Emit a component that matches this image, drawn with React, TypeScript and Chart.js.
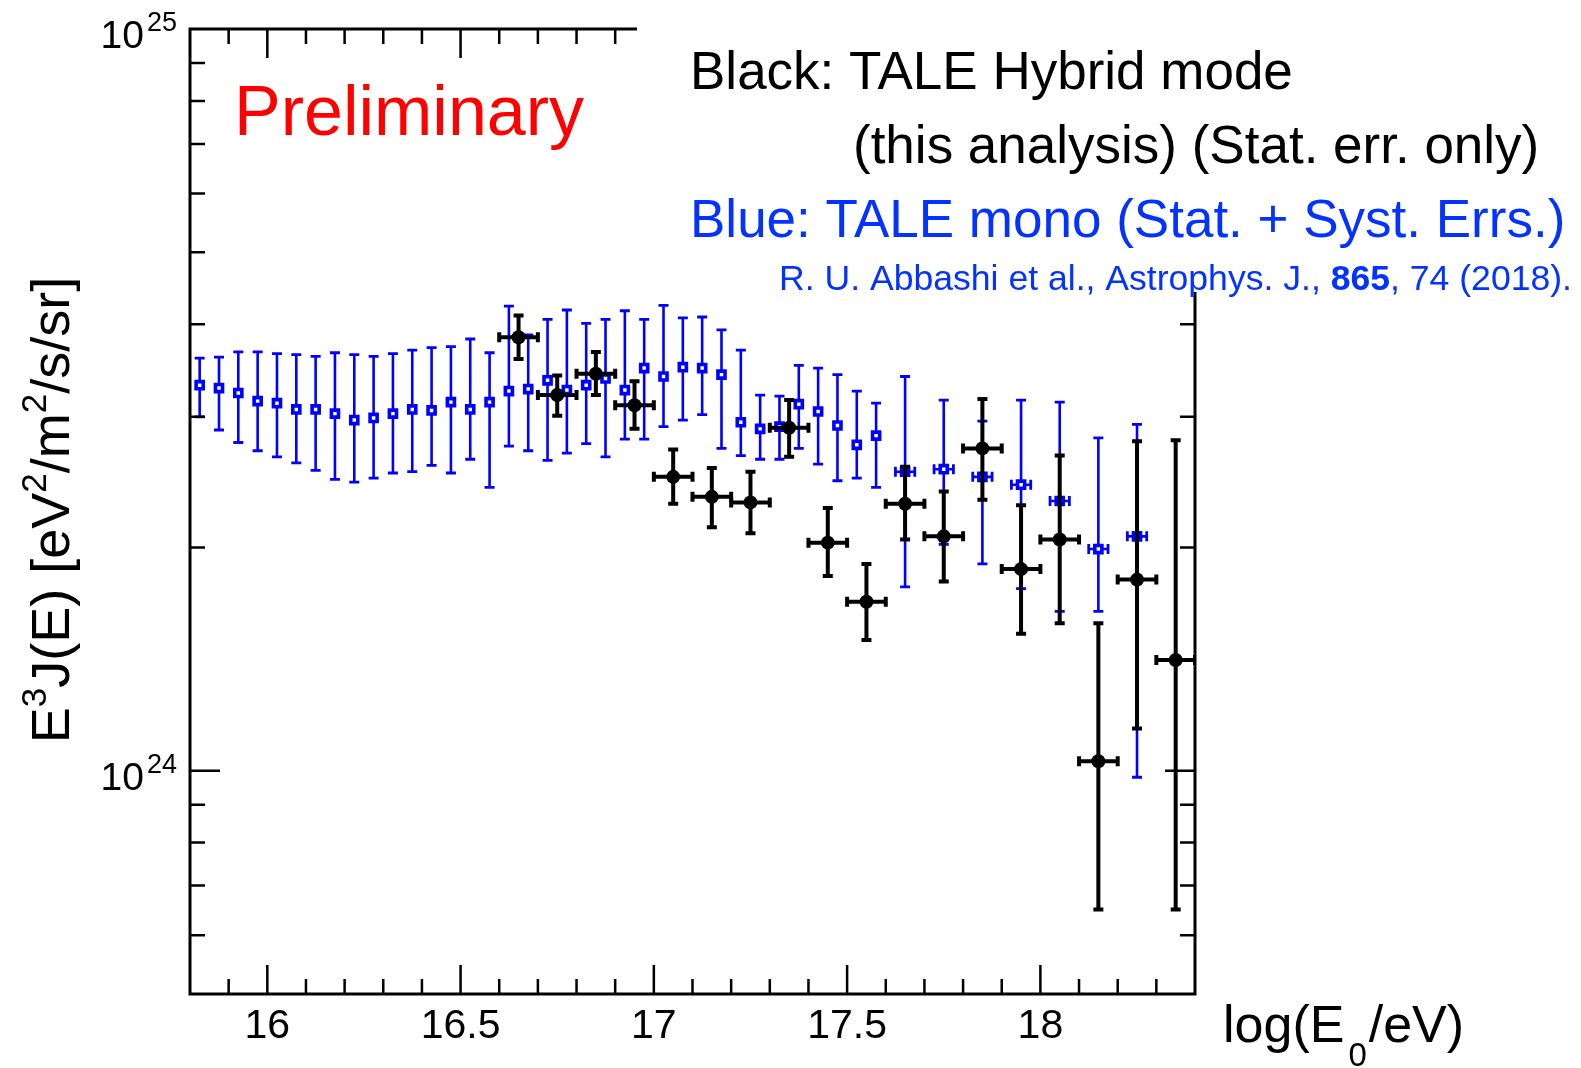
import React, { useEffect, useRef } from 'react';
import { Chart, registerables } from 'chart.js';

Chart.register(...registerables);

const W = 1581;
const H = 1068;
const UNIT = 1e24;

// ---- Blue: TALE mono (values in units of 1e24) ----
const blueX = [15.825, 15.875, 15.925, 15.975, 16.025, 16.075, 16.125, 16.175, 16.225, 16.275,
  16.325, 16.375, 16.425, 16.475, 16.525, 16.575, 16.625, 16.675, 16.725, 16.775,
  16.825, 16.875, 16.925, 16.975, 17.025, 17.075, 17.125, 17.175, 17.225, 17.275,
  17.325, 17.375, 17.425, 17.475, 17.525, 17.575, 17.65, 17.75, 17.85, 17.95,
  18.05, 18.15, 18.25];
const blueY = [3.31, 3.28, 3.23, 3.15, 3.13, 3.07, 3.07, 3.03, 2.97, 2.99,
  3.03, 3.07, 3.06, 3.14, 3.07, 3.14, 3.25, 3.27, 3.36, 3.26,
  3.31, 3.38, 3.26, 3.49, 3.40, 3.50, 3.49, 3.42, 2.95, 2.89,
  2.91, 3.12, 3.05, 2.92, 2.75, 2.83, 2.53, 2.55, 2.49, 2.43,
  2.31, 1.99, 2.07];
const blueHi = [3.60, 3.61, 3.67, 3.67, 3.65, 3.64, 3.62, 3.66, 3.64, 3.62,
  3.65, 3.69, 3.72, 3.73, 3.82, 3.66, 4.23, 3.87, 4.06, 4.18,
  4.01, 4.06, 4.17, 4.06, 4.24, 4.08, 4.09, 3.93, 3.69, 3.21,
  3.20, 3.52, 3.49, 3.42, 3.25, 3.13, 3.40, 3.16, 2.96, 3.16,
  3.14, 2.81, 2.93];
const blueLo = [3.00, 2.88, 2.77, 2.70, 2.65, 2.60, 2.54, 2.47, 2.45, 2.48,
  2.52, 2.53, 2.58, 2.52, 2.63, 2.41, 2.74, 2.70, 2.62, 2.68,
  2.76, 2.65, 2.80, 2.80, 2.91, 2.97, 3.02, 2.72, 2.66, 2.63,
  2.63, 2.72, 2.59, 2.46, 2.48, 2.41, 1.77, 2.02, 1.90, 1.76,
  1.64, 1.64, 0.98];
const blueXErr = [0, 0, 0, 0, 0, 0, 0, 0, 0, 0,
  0, 0, 0, 0, 0, 0, 0, 0, 0, 0,
  0, 0, 0, 0, 0, 0, 0, 0, 0, 0,
  0, 0, 0, 0, 0, 0, 0.025, 0.025, 0.025, 0.025,
  0.025, 0.025, 0.025];

// ---- Black: TALE Hybrid (values in units of 1e24) ----
const blackX = [16.65, 16.75, 16.85, 16.95, 17.05, 17.15, 17.25, 17.35, 17.45,
  17.55, 17.65, 17.75, 17.85, 17.95, 18.05, 18.15, 18.25, 18.35];
const blackY = [3.84, 3.21, 3.43, 3.11, 2.49, 2.34, 2.30, 2.90, 2.03,
  1.69, 2.29, 2.07, 2.72, 1.87, 2.05, 1.03, 1.81, 1.41];
const blackHi = [4.11, 3.41, 3.67, 3.35, 2.71, 2.56, 2.53, 3.16, 2.26,
  1.90, 2.57, 2.38, 3.17, 2.28, 2.66, 1.58, 2.78, 2.79];
const blackLo = [3.59, 3.01, 3.21, 2.89, 2.29, 2.13, 2.09, 2.65, 1.83,
  1.50, 2.05, 1.80, 2.32, 1.53, 1.58, 0.65, 1.14, 0.65];
const blackXErr = [0.05, 0.05, 0.05, 0.05, 0.05, 0.05, 0.05, 0.05, 0.05,
  0.05, 0.05, 0.05, 0.05, 0.05, 0.05, 0.05, 0.05, 0.05];

// ---- axes ----
const X_MIN = 15.8;
const X_MAX = 18.4;
const Y_MIN = 5e23;
const Y_MAX = 1e25;
const xMajor = [16, 16.5, 17, 17.5, 18];
const xLabels = ['16', '16.5', '17', '17.5', '18'];
const yMajor = [1e24, 1e25];
const yLabelExp = ['24', '25'];

const SANS = '"Liberation Sans", Arial, Helvetica, sans-serif';
const BLUE = '#0000ff';
const TEXT_BLUE = '#0433ff';

type Bars = { xs: number[]; ys: number[]; lo: number[]; hi: number[]; xerr: number[]; color: string; lw: number; cap: number; capLw: number };

const barSets: Bars[] = [
  { xs: blackX, ys: blackY, lo: blackLo, hi: blackHi, xerr: blackXErr, color: '#000000', lw: 4, cap: 5, capLw: 4 },
  { xs: blueX, ys: blueY, lo: blueLo, hi: blueHi, xerr: blueXErr, color: BLUE, lw: 2.6, cap: 5, capLw: 2.8 },
];

const errorBarPlugin = {
  id: 'errorBars',
  beforeDatasetDraw(chart: any, args: any) {
    const b = barSets[args.index];
    if (!b) return;
    const ctx = chart.ctx as CanvasRenderingContext2D;
    const sx = chart.scales.x;
    const sy = chart.scales.y;
    const a = chart.chartArea;
    ctx.save();
    ctx.beginPath();
    ctx.rect(a.left, a.top, a.right - a.left, a.bottom - a.top);
    ctx.clip();
    ctx.strokeStyle = b.color;
    ctx.lineCap = 'butt';
    for (let i = 0; i < b.xs.length; i++) {
      const px = sx.getPixelForValue(b.xs[i]);
      const py = sy.getPixelForValue(b.ys[i] * UNIT);
      const pLo = sy.getPixelForValue(b.lo[i] * UNIT);
      const pHi = sy.getPixelForValue(b.hi[i] * UNIT);
      ctx.lineWidth = b.lw;
      ctx.beginPath();
      ctx.moveTo(px, pLo);
      ctx.lineTo(px, pHi);
      if (b.xerr[i] > 0) {
        const xl = sx.getPixelForValue(b.xs[i] - b.xerr[i]);
        const xr = sx.getPixelForValue(b.xs[i] + b.xerr[i]);
        ctx.moveTo(xl, py);
        ctx.lineTo(xr, py);
      }
      ctx.stroke();
      ctx.lineWidth = b.capLw;
      ctx.beginPath();
      ctx.moveTo(px - b.cap, pLo);
      ctx.lineTo(px + b.cap, pLo);
      ctx.moveTo(px - b.cap, pHi);
      ctx.lineTo(px + b.cap, pHi);
      if (b.xerr[i] > 0) {
        const xl = sx.getPixelForValue(b.xs[i] - b.xerr[i]);
        const xr = sx.getPixelForValue(b.xs[i] + b.xerr[i]);
        ctx.moveTo(xl, py - b.cap);
        ctx.lineTo(xl, py + b.cap);
        ctx.moveTo(xr, py - b.cap);
        ctx.lineTo(xr, py + b.cap);
      }
      ctx.stroke();
    }
    ctx.restore();
  },
};

type Piece = { t: string; size: number; dy?: number; bold?: boolean; color?: string };

function drawPieces(ctx: CanvasRenderingContext2D, pieces: Piece[], x: number, y: number) {
  let cx = x;
  for (const p of pieces) {
    ctx.font = `${p.bold ? 'bold ' : ''}${p.size}px ${SANS}`;
    if (p.color) ctx.fillStyle = p.color;
    ctx.fillText(p.t, cx, y + (p.dy || 0));
    cx += ctx.measureText(p.t).width;
  }
  return cx - x;
}

function piecesWidth(ctx: CanvasRenderingContext2D, pieces: Piece[]) {
  let w = 0;
  for (const p of pieces) {
    ctx.font = `${p.bold ? 'bold ' : ''}${p.size}px ${SANS}`;
    w += ctx.measureText(p.t).width;
  }
  return w;
}

const framePlugin = {
  id: 'rootFrame',
  afterDraw(chart: any) {
    const ctx = chart.ctx as CanvasRenderingContext2D;
    const sx = chart.scales.x;
    const sy = chart.scales.y;
    const { left, right, top, bottom } = chart.chartArea;
    const boxLeft = 637;
    const boxBottom = 292;
    ctx.save();
    ctx.strokeStyle = '#000';
    ctx.lineWidth = 3;
    ctx.lineJoin = 'miter';
    ctx.beginPath();
    ctx.moveTo(boxLeft, top);
    ctx.lineTo(left, top);
    ctx.lineTo(left, bottom);
    ctx.lineTo(right, bottom);
    ctx.lineTo(right, boxBottom);
    ctx.stroke();

    // x ticks
    ctx.lineWidth = 2.5;
    ctx.beginPath();
    for (let k = 159; k <= 183; k++) {
      const v = k / 10;
      const px = sx.getPixelForValue(v);
      const major = xMajor.some((m) => Math.abs(m - v) < 1e-6);
      const len = major ? 29 : 15;
      ctx.moveTo(px, bottom);
      ctx.lineTo(px, bottom - len);
      if (px < boxLeft) {
        ctx.moveTo(px, top);
        ctx.lineTo(px, top + len);
      }
    }
    // y ticks
    for (let d = 23; d <= 24; d++) {
      for (let m = 1; m <= 9; m++) {
        const v = m * Math.pow(10, d);
        if (v <= Y_MIN * 1.0001 || v >= Y_MAX * 0.9999) continue;
        const py = sy.getPixelForValue(v);
        const len = m === 1 ? 30 : 15;
        ctx.moveTo(left, py);
        ctx.lineTo(left + len, py);
        if (py > boxBottom) {
          ctx.moveTo(right, py);
          ctx.lineTo(right - len, py);
        }
      }
    }
    ctx.stroke();

    // x tick labels
    ctx.fillStyle = '#000';
    ctx.textBaseline = 'alphabetic';
    ctx.textAlign = 'center';
    ctx.font = `41px ${SANS}`;
    xMajor.forEach((v, i) => {
      ctx.fillText(xLabels[i], sx.getPixelForValue(v), 1038);
    });

    // y tick labels 10^n
    ctx.textAlign = 'right';
    yMajor.forEach((v, i) => {
      const py = sy.getPixelForValue(v);
      ctx.font = `27px ${SANS}`;
      ctx.fillText(yLabelExp[i], 177, py + 2);
      const sw = ctx.measureText(yLabelExp[i]).width;
      ctx.font = `39px ${SANS}`;
      ctx.fillText('10', 177 - sw - 3, py + 19);
    });

    // x title
    ctx.textAlign = 'left';
    ctx.font = `52px ${SANS}`;
    let cx = 1223;
    ctx.fillText('log(E', cx, 1042);
    cx += ctx.measureText('log(E').width + 4;
    ctx.font = `33px ${SANS}`;
    ctx.fillText('0', cx, 1066);
    cx += ctx.measureText('0').width + 2;
    ctx.font = `52px ${SANS}`;
    ctx.fillText('/eV)', cx, 1042);

    // y title (rotated)
    const F = 54;
    const S = 35;
    const yt: Piece[] = [
      { t: 'E', size: F },
      { t: '3', size: S, dy: -0.42 * F },
      { t: 'J(E) [eV', size: F },
      { t: '2', size: S, dy: -0.42 * F },
      { t: '/m', size: F },
      { t: '2', size: S, dy: -0.42 * F },
      { t: '/s/sr]', size: F },
    ];
    ctx.save();
    ctx.translate(69, 510);
    ctx.rotate(-Math.PI / 2);
    const tw = piecesWidth(ctx, yt);
    drawPieces(ctx, yt, -tw / 2, 0);
    ctx.restore();

    // Preliminary
    ctx.fillStyle = '#ff0000';
    ctx.font = `70px ${SANS}`;
    ctx.fillText('Preliminary', 234, 135);

    // legend text
    ctx.fillStyle = '#000';
    ctx.font = `53px ${SANS}`;
    ctx.fillText('Black: TALE Hybrid mode', 690, 89);
    ctx.fillText('(this analysis) (Stat. err. only)', 853, 163);
    ctx.fillStyle = TEXT_BLUE;
    ctx.fillText('Blue: TALE mono (Stat. + Syst. Errs.)', 690, 237);
    drawPieces(ctx, [
      { t: 'R. U. Abbashi et al., Astrophys. J., ', size: 35.6 },
      { t: '865', size: 35.6, bold: true },
      { t: ', 74 (2018).', size: 35.6 },
    ], 779, 290);
    ctx.restore();
  },
};

export default function App() {
  const ref = useRef<HTMLCanvasElement | null>(null);
  useEffect(() => {
    if (!ref.current) return;
    const chart = new Chart(ref.current, {
      type: 'scatter',
      data: {
        datasets: [
          {
            label: 'TALE Hybrid',
            data: blackX.map((x, i) => ({ x, y: blackY[i] * UNIT })),
            pointStyle: 'circle',
            pointRadius: 7,
            pointBackgroundColor: '#000000',
            pointBorderColor: '#000000',
            pointBorderWidth: 0,
            showLine: false,
          },
          {
            label: 'TALE mono',
            data: blueX.map((x, i) => ({ x, y: blueY[i] * UNIT })),
            pointStyle: 'rect',
            pointRadius: 5,
            pointBackgroundColor: '#ffffff',
            pointBorderColor: BLUE,
            pointBorderWidth: 3.6,
            showLine: false,
          },
        ],
      },
      options: {
        responsive: false,
        animation: false,
        events: [],
        layout: { padding: { left: 190, right: W - 1195, top: 29, bottom: H - 994 } },
        plugins: { legend: { display: false }, tooltip: { enabled: false }, title: { display: false } },
        scales: {
          x: { type: 'linear', min: X_MIN, max: X_MAX, display: false },
          y: { type: 'logarithmic', min: Y_MIN, max: Y_MAX, display: false },
        },
      },
      plugins: [errorBarPlugin, framePlugin],
    } as any);
    return () => chart.destroy();
  }, []);
  return (
    <div style={{ position: 'fixed', left: 0, top: 0, width: W, height: H, background: '#fff' }}>
      <canvas ref={ref} width={W} height={H} style={{ width: W, height: H, display: 'block' }} />
    </div>
  );
}
